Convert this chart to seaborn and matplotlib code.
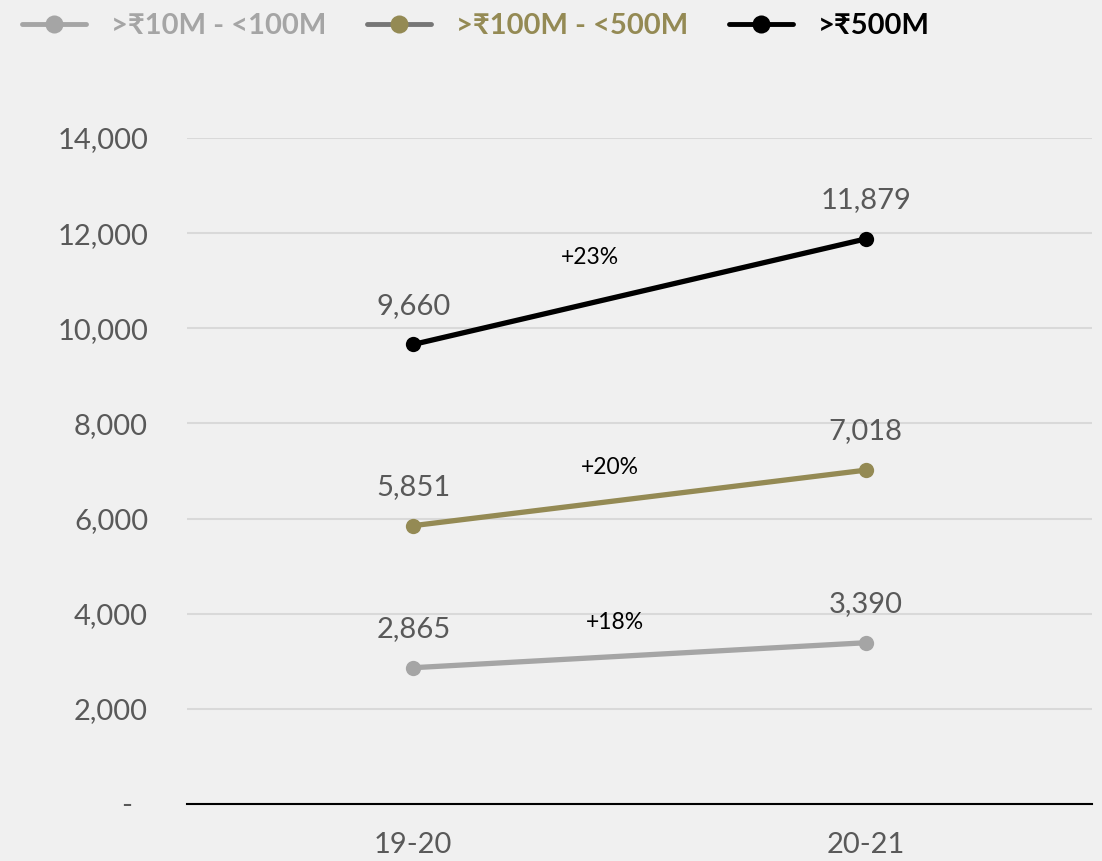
import matplotlib
matplotlib.use("Agg")
import matplotlib.pyplot as plt
from matplotlib.lines import Line2D
import seaborn as sns
import pandas as pd

years = ["19-20", "20-21"]
series_names = [">₹10M - <100M", ">₹100M - <500M", ">₹500M"]
small = [2865, 3390]
mid = [5851, 7018]
large = [9660, 11879]
growth_labels = ["+18%", "+20%", "+23%"]
growth_pos = [(0.445, 3805), (0.434, 7084), (0.39, 11498)]
y_ticks = [0, 2000, 4000, 6000, 8000, 10000, 12000, 14000]
y_tick_labels = ["-  ", "2,000", "4,000", "6,000", "8,000", "10,000", "12,000", "14,000"]

colors = ["#A5A5A5", "#948A54", "#000000"]
legend_line_colors = ["#A5A5A5", "#767676", "#000000"]
bg = "#F0F0F0"

sns.set_theme(style="white")
plt.rcParams['font.family'] = ['Lato', 'DejaVu Sans']

rows = []
for name, vals in zip(series_names, [small, mid, large]):
    for i, (yr, v) in enumerate(zip(years, vals)):
        rows.append({"series": name, "x": i, "year": yr, "value": v})
df = pd.DataFrame(rows)

fig = plt.figure(figsize=(11.02, 8.61), dpi=100, facecolor=bg)
ax = fig.add_axes([187/1102, 1-804/861, 905/1102, (804-138)/861])
ax.set_facecolor(bg)

for name, c in zip(series_names, colors):
    sub = df[df.series == name]
    sns.lineplot(data=sub, x="x", y="value", ax=ax, color=c, linewidth=3.8,
                 marker="o", markersize=11, markeredgewidth=0, legend=False)
    for _, r in sub.iterrows():
        ax.annotate(f"{r.value:,}", (r.x, r.value), xytext=(0, 28),
                    textcoords="offset points", ha="center", va="center",
                    fontsize=21, color="#595959")

for lab, (gx, gy) in zip(growth_labels, growth_pos):
    ax.text(gx, gy, lab, ha="center", va="center", fontsize=16.5, color="#000000")

ax.set_xlim(-0.5, 1.5)
ax.set_ylim(0, 14000)
ax.set_xticks([0, 1])
ax.set_xticklabels(years)
ax.set_yticks(y_ticks)
ax.set_yticklabels(y_tick_labels)
ax.tick_params(axis="both", length=0, labelsize=21, labelcolor="#595959")
ax.tick_params(axis="y", pad=28)
ax.tick_params(axis="x", pad=20)
ax.set_xlabel("")
ax.set_ylabel("")
ax.grid(axis="y", color="#D9D9D9", linewidth=1.5)
ax.set_axisbelow(True)
for s in ["top", "right", "left"]:
    ax.spines[s].set_visible(False)
ax.spines["bottom"].set_color("#000000")
ax.spines["bottom"].set_linewidth(1.5)

handles = [Line2D([0], [0], color=lc, linewidth=3.5, marker="o", markersize=13,
                  markerfacecolor=mc, markeredgewidth=0)
           for lc, mc in zip(legend_line_colors, colors)]
leg = fig.legend(handles, series_names, loc="upper left", bbox_to_anchor=(-0.004, 1.015),
                 ncol=3, frameon=False, fontsize=21, handlelength=2.2,
                 columnspacing=1.4, handletextpad=0.85)
for t, c in zip(leg.get_texts(), colors):
    t.set_color(c)
    t.set_fontweight("bold")

fig.savefig("out.png", dpi=100, facecolor=bg)
